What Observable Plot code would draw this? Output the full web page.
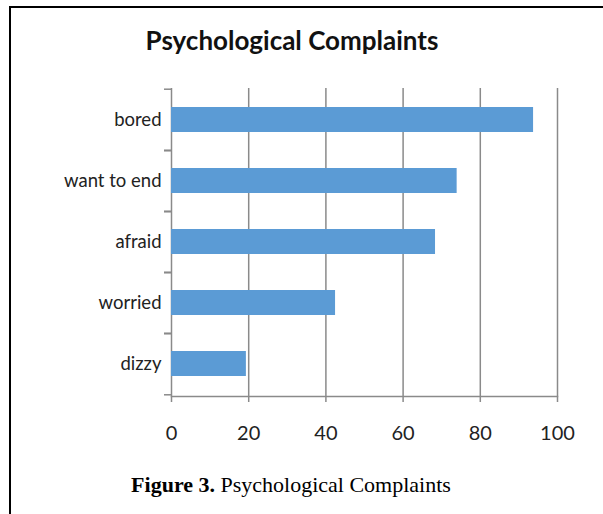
<!DOCTYPE html>
<html>
<head>
<meta charset="utf-8">
<script src="https://cdn.jsdelivr.net/npm/d3@7"></script>
<script src="https://cdn.jsdelivr.net/npm/@observablehq/plot@0.6"></script>
<style>
  html, body { margin: 0; padding: 0; background: #fff; }
  #wrap { position: relative; width: 603px; height: 514px; overflow: hidden; background: #fff; }
  #frame { position: absolute; left: 9px; top: 6px; width: 620px; height: 540px;
           border-top: 2px solid #000; border-left: 2px solid #000; box-sizing: border-box; }
  #title { position: absolute; left: 0; top: 24px; width: 584px; text-align: center;
           font-family: Lato, "Open Sans", sans-serif; font-weight: bold; font-size: 26px; color: #111; }
  #chart { position: absolute; left: 0; top: 0; }
  #caption { position: absolute; left: 0; top: 472px; width: 582px; text-align: center;
             font-family: "Liberation Serif", "Times New Roman", serif; font-size: 22px; color: #000; }
</style>
</head>
<body>
<div id="wrap">
  <div id="frame"></div>
  <div id="title">Psychological Complaints</div>
  <div id="chart"></div>
  <div id="caption"><b>Figure 3.</b> Psychological Complaints</div>
</div>
<script>
const categories = ["bored", "want to end", "afraid", "worried", "dizzy"];
const values = [93.8, 74.0, 68.4, 42.5, 19.4];
const xTicks = [0, 20, 40, 60, 80, 100];

const data = categories.map((c, i) => ({category: c, value: values[i]}));
const gridColor = "#8a8a8a";
const half = (396 - 88) / categories.length / 2;

const chart = Plot.plot({
  width: 603,
  height: 460,
  marginTop: 88,
  marginLeft: 171,
  marginRight: 46,
  marginBottom: 64,
  style: {fontFamily: "Lato, 'Open Sans', sans-serif", background: "transparent"},
  x: {domain: [0, 100], ticks: xTicks},
  y: {domain: categories, paddingInner: 0.59, paddingOuter: 0.295},
  marks: [
    Plot.gridX(xTicks, {stroke: gridColor, strokeOpacity: 1, strokeWidth: 1.5}),
    Plot.barX(data, {x: "value", y: "category", fill: "#5b9bd5"}),
    Plot.frame({anchor: "bottom", stroke: gridColor, strokeWidth: 1.5}),
    Plot.axisX({ticks: xTicks, tickSize: 6, tickPadding: 23, fontSize: 20, stroke: gridColor, strokeWidth: 1.5, fill: "#222", label: null}),
    Plot.axisY({tickSize: 7, text: null, dy: -half, stroke: gridColor, strokeWidth: 1.5, label: null}),
    Plot.axisY({tickSize: 7, text: null, dy: half, stroke: gridColor, strokeWidth: 1.5, label: null}),
    Plot.axisY({tickSize: 0, tickPadding: 10, fontSize: 18.5, fill: "#222", label: null})
  ]
});
document.getElementById("chart").appendChild(chart);
</script>
</body>
</html>
